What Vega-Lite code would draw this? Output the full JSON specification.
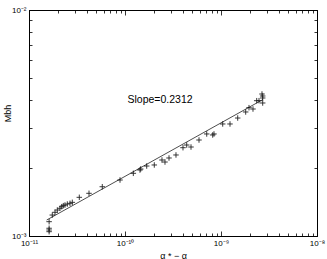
{
  "$schema": "https://vega.github.io/schema/vega-lite/v6.json",
  "width": 288,
  "height": 226,
  "autosize": {"type": "none"},
  "padding": {"left": 29, "top": 10, "right": 10, "bottom": 23},
  "background": "white",
  "config": {
    "view": {"stroke": "black", "strokeWidth": 1},
    "font": "Liberation Sans",
    "axis": {
      "domainColor": "black",
      "tickColor": "black",
      "labelColor": "black",
      "titleColor": "black",
      "labelFont": "Liberation Sans",
      "titleFont": "Liberation Sans",
      "labelFontSize": 8,
      "titleFontSize": 9,
      "titleFontWeight": "normal",
      "grid": false,
      "tickWidth": 0.8
    }
  },
  "datasets": {
    "pts": [
      {"a": 1.62e-11, "m": 1.082e-3},
      {"a": 1.62e-11, "m": 1.063e-3},
      {"a": 1.62e-11, "m": 1.045e-3},
      {"a": 1.62e-11, "m": 1.157e-3},
      {"a": 1.748e-11, "m": 1.238e-3},
      {"a": 1.866e-11, "m": 1.273e-3},
      {"a": 1.972e-11, "m": 1.303e-3},
      {"a": 2.103e-11, "m": 1.326e-3},
      {"a": 2.191e-11, "m": 1.348e-3},
      {"a": 2.277e-11, "m": 1.362e-3},
      {"a": 2.371e-11, "m": 1.371e-3},
      {"a": 2.506e-11, "m": 1.385e-3},
      {"a": 2.674e-11, "m": 1.395e-3},
      {"a": 2.825e-11, "m": 1.409e-3},
      {"a": 3.342e-11, "m": 1.483e-3},
      {"a": 4.217e-11, "m": 1.545e-3},
      {"a": 5.80e-11, "m": 1.652e-3},
      {"a": 8.87e-11, "m": 1.769e-3},
      {"a": 1.221e-10, "m": 1.894e-3},
      {"a": 1.432e-10, "m": 1.959e-3},
      {"a": 1.457e-10, "m": 1.979e-3},
      {"a": 1.683e-10, "m": 2.040e-3},
      {"a": 2.019e-10, "m": 2.062e-3},
      {"a": 2.428e-10, "m": 2.169e-3},
      {"a": 2.610e-10, "m": 2.125e-3},
      {"a": 2.873e-10, "m": 2.214e-3},
      {"a": 3.398e-10, "m": 2.283e-3},
      {"a": 4.019e-10, "m": 2.459e-3},
      {"a": 4.394e-10, "m": 2.527e-3},
      {"a": 4.870e-10, "m": 2.476e-3},
      {"a": 5.90e-10, "m": 2.659e-3},
      {"a": 7.10e-10, "m": 2.828e-3},
      {"a": 8.195e-10, "m": 2.799e-3},
      {"a": 8.453e-10, "m": 2.828e-3},
      {"a": 1.042e-9, "m": 3.131e-3},
      {"a": 1.241e-9, "m": 3.131e-3},
      {"a": 1.493e-9, "m": 3.327e-3},
      {"a": 1.808e-9, "m": 3.538e-3},
      {"a": 1.957e-9, "m": 3.696e-3},
      {"a": 2.154e-9, "m": 3.647e-3},
      {"a": 2.355e-9, "m": 3.969e-3},
      {"a": 2.488e-9, "m": 3.969e-3},
      {"a": 2.718e-9, "m": 4.164e-3},
      {"a": 2.718e-9, "m": 4.080e-3},
      {"a": 2.718e-9, "m": 3.877e-3},
      {"a": 2.673e-9, "m": 4.249e-3}
    ],
    "fit": [
      {"a": 1.529e-11, "m": 1.177e-3},
      {"a": 2.738e-9, "m": 4.018e-3}
    ],
    "label": [
      {"a": 2.316e-10, "m": 3.998e-3, "t": "Slope=0.2312"}
    ]
  },
  "layer": [
    {
      "data": {"name": "pts"},
      "mark": {
        "type": "point",
        "shape": "M-1,0L1,0M0,-1L0,1",
        "filled": false,
        "stroke": "#222222",
        "strokeWidth": 0.9,
        "size": 30,
        "opacity": 1
      },
      "encoding": {
        "x": {
          "field": "a", "type": "quantitative",
          "scale": {"type": "log", "domain": [1e-11, 1e-8], "nice": false},
          "axis": {
            "orient": "bottom",
            "title": "α * − α",
            "titlePadding": 2,
            "values": [1e-11,2e-11,3e-11,4e-11,5e-11,6e-11,7e-11,8e-11,9e-11,1e-10,2e-10,3e-10,4e-10,5e-10,6e-10,7e-10,8e-10,9e-10,1e-9,2e-9,3e-9,4e-9,5e-9,6e-9,7e-9,8e-9,9e-9,1e-8],
            "labelExpr": "(datum.value > 0.9e-11 && datum.value < 1.1e-11) ? '10⁻¹¹' : (datum.value > 0.9e-10 && datum.value < 1.1e-10) ? '10⁻¹⁰' : (datum.value > 0.9e-9 && datum.value < 1.1e-9) ? '10⁻⁹' : (datum.value > 0.9e-8 && datum.value < 1.1e-8) ? '10⁻⁸' : ''",
            "tickSize": {"condition": {"test": "abs(log(datum.value)/LN10 - round(log(datum.value)/LN10)) < 0.01", "value": -5}, "value": -3},
            "labelPadding": 8,
            "labelFlush": false,
            "labelOverlap": false
          }
        },
        "y": {
          "field": "m", "type": "quantitative",
          "scale": {"type": "log", "domain": [1e-3, 1e-2], "nice": false},
          "axis": {
            "orient": "left",
            "title": "Mbh",
            "titleY": 103,
            "titleX": -17,
            "values": [1e-3,2e-3,3e-3,4e-3,5e-3,6e-3,7e-3,8e-3,9e-3,1e-2],
            "labelExpr": "(datum.value > 0.9e-3 && datum.value < 1.1e-3) ? '10⁻³' : (datum.value > 0.9e-2 && datum.value < 1.1e-2) ? '10⁻²' : ''",
            "tickSize": {"condition": {"test": "abs(log(datum.value)/LN10 - round(log(datum.value)/LN10)) < 0.01", "value": -5}, "value": -3},
            "labelPadding": 8,
            "labelFlush": false,
            "labelOverlap": false
          }
        }
      }
    },
    {
      "data": {"name": "fit"},
      "mark": {"type": "line", "color": "black", "strokeWidth": 0.7},
      "encoding": {
        "x": {
          "field": "a", "type": "quantitative",
          "axis": {
            "orient": "top",
            "title": null,
            "labels": false,
            "values": [1e-11,2e-11,3e-11,4e-11,5e-11,6e-11,7e-11,8e-11,9e-11,1e-10,2e-10,3e-10,4e-10,5e-10,6e-10,7e-10,8e-10,9e-10,1e-9,2e-9,3e-9,4e-9,5e-9,6e-9,7e-9,8e-9,9e-9,1e-8],
            "tickSize": {"condition": {"test": "abs(log(datum.value)/LN10 - round(log(datum.value)/LN10)) < 0.01", "value": -5}, "value": -3}
          }
        },
        "y": {
          "field": "m", "type": "quantitative",
          "axis": {
            "orient": "right",
            "title": null,
            "labels": false,
            "values": [1e-3,2e-3,3e-3,4e-3,5e-3,6e-3,7e-3,8e-3,9e-3,1e-2],
            "tickSize": {"condition": {"test": "abs(log(datum.value)/LN10 - round(log(datum.value)/LN10)) < 0.01", "value": -5}, "value": -3}
          }
        }
      }
    },
    {
      "data": {"name": "label"},
      "mark": {"type": "text", "fontSize": 10.5, "font": "Liberation Sans", "color": "black", "align": "center", "baseline": "middle"},
      "encoding": {
        "x": {"field": "a", "type": "quantitative", "axis": null},
        "y": {"field": "m", "type": "quantitative", "axis": null},
        "text": {"field": "t"}
      }
    }
  ],
  "resolve": {"axis": {"x": "independent", "y": "independent"}}
}
